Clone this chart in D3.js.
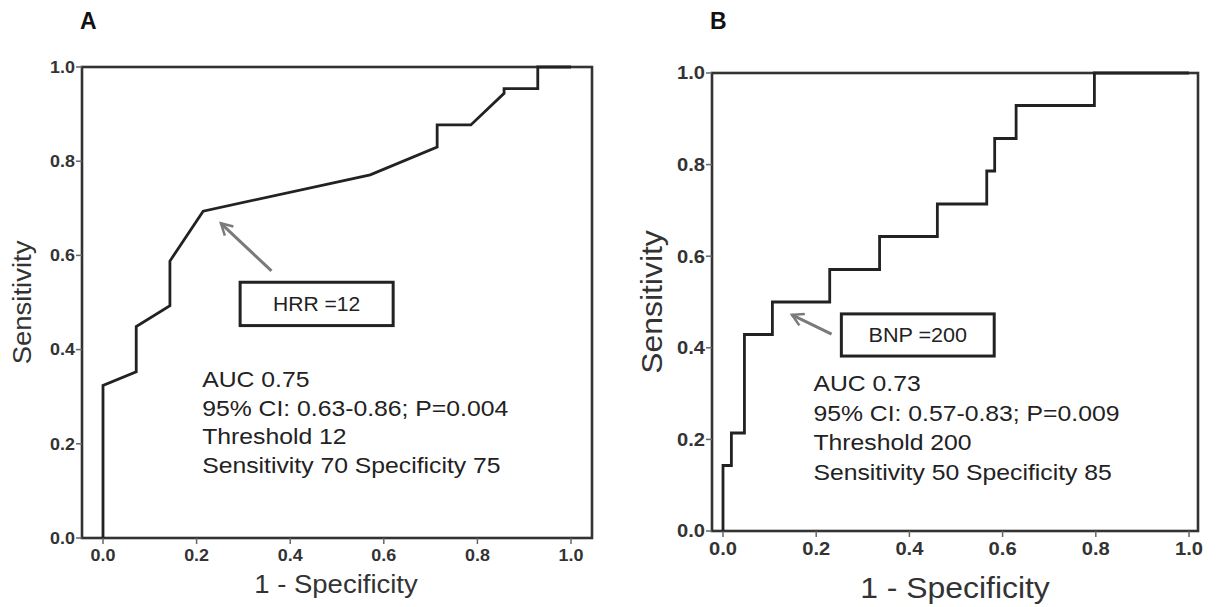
<!DOCTYPE html>
<html>
<head>
<meta charset="utf-8">
<script src="https://cdn.jsdelivr.net/npm/d3@7"></script>
<style>
  body { margin: 0; background: #fff; }
  svg { display: block; font-family: Arial, "Liberation Sans", sans-serif; }
</style>
</head>
<body>
<script>
// ROC curve A (HRR)
let fprA = [0, 0, 0.071, 0.071, 0.143, 0.143, 0.214, 0.571, 0.714, 0.714, 0.786, 0.857, 0.857, 0.929, 0.929, 1];
let tprA = [0, 0.324, 0.353, 0.449, 0.493, 0.588, 0.694, 0.771, 0.83, 0.877, 0.877, 0.944, 0.954, 0.954, 1, 1];

// ROC curve B (BNP) – step corners (x where sensitivity rises, level after rise)
let fprB = [0, 0, 0.018, 0.046, 0.106, 0.229, 0.336, 0.46, 0.566, 0.583, 0.629, 0.797, 1];
let tprB = [0, 0.143, 0.214, 0.429, 0.5, 0.571, 0.643, 0.714, 0.786, 0.857, 0.929, 1, 1];

let ticks = [0, 0.2, 0.4, 0.6, 0.8, 1.0];

let statsA = ["AUC 0.75", "95% CI: 0.63-0.86; P=0.004", "Threshold 12", "Sensitivity 70 Specificity 75"];
let statsB = ["AUC 0.73", "95% CI: 0.57-0.83; P=0.009", "Threshold 200", "Sensitivity 50 Specificity 85"];

let w = 1217, h = 607;
let sx = 1.1;   // picture is a bit stretched sideways

let svg = d3.select("body").append("svg")
    .attr("width", w)
    .attr("height", h);

let defs = svg.append("defs");
defs.append("marker")
    .attr("id", "head")
    .attr("viewBox", "0 0 12 12")
    .attr("refX", 10).attr("refY", 6)
    .attr("markerWidth", 5).attr("markerHeight", 5)
    .attr("markerUnits", "strokeWidth")
    .attr("orient", "auto")
    .append("path")
    .attr("d", "M1,1 L10,6 L1,11")
    .attr("fill", "none")
    .attr("stroke", "#7a7a7a")
    .attr("stroke-width", 2);

function txt(g, x, y, s, size, opt) {
    opt = opt || {};
    let t = g.append("text")
        .attr("transform", "translate(" + x + "," + y + ")" + (opt.rot ? " rotate(-90)" : "") + " scale(" + (opt.sx || sx) + ",1)")
        .attr("font-size", size + "px")
        .attr("fill", opt.fill || "#222")
        .attr("text-anchor", opt.anchor || "start")
        .attr("font-weight", opt.bold ? "bold" : "normal")
        .text(s);
    return t;
}

let panel = function(cfg) {
    let x = d3.scaleLinear().domain([0, 1]).range(cfg.xr);
    let y = d3.scaleLinear().domain([0, 1]).range(cfg.yr);
    let g = svg.append("g");

    // frame
    g.append("rect")
        .attr("x", cfg.fx[0]).attr("y", y(1))
        .attr("width", cfg.fx[1] - cfg.fx[0])
        .attr("height", y(0) - y(1))
        .attr("fill", "none")
        .attr("stroke", "#333")
        .attr("stroke-width", 2.6);

    // y ticks
    g.selectAll(".yt").data(ticks).enter().append("line")
        .attr("x1", cfg.fx[0] - 6).attr("x2", cfg.fx[0])
        .attr("y1", d => y(d)).attr("y2", d => y(d))
        .attr("stroke", "#666").attr("stroke-width", 1.5);
    ticks.forEach(d => txt(g, cfg.fx[0] - 7, y(d) + cfg.tick * 0.36, d3.format(".1f")(d), cfg.tick,
        { anchor: "end", bold: true, fill: "#333", sx: 1.12 }));

    // x ticks
    g.selectAll(".xt").data(ticks).enter().append("line")
        .attr("x1", d => x(d)).attr("x2", d => x(d))
        .attr("y1", y(0)).attr("y2", y(0) + 6)
        .attr("stroke", "#666").attr("stroke-width", 1.5);
    ticks.forEach(d => txt(g, x(d), cfg.xlabY, d3.format(".1f")(d), cfg.tick,
        { anchor: "middle", bold: true, fill: "#333", sx: 1.12 }));

    // axis titles
    txt(g, x(0.5) - 1, cfg.xtitleY, "1 - Specificity", cfg.title, { anchor: "middle", fill: "#333" });
    txt(g, cfg.ytitleX, (y(0) + y(1)) / 2, "Sensitivity", cfg.title, { anchor: "middle", fill: "#333", rot: true });

    // panel letter
    txt(g, cfg.fx[0] - 2, 29, cfg.letter, 23, { bold: true, fill: "#111", sx: 1 });

    // ROC curve
    let pts = cfg.fpr.map((d, i) => [d, cfg.tpr[i]]);
    let line = d3.line()
        .x(d => x(d[0]))
        .y(d => y(d[1]))
        .curve(cfg.step ? d3.curveStepAfter : d3.curveLinear);
    g.append("path")
        .attr("d", line(pts))
        .attr("fill", "none")
        .attr("stroke", "#222")
        .attr("stroke-width", 2.8)
        .attr("stroke-linejoin", "miter");

    // arrow
    g.append("line")
        .attr("x1", x(cfg.arrow[0])).attr("y1", y(cfg.arrow[1]))
        .attr("x2", x(cfg.arrow[2])).attr("y2", y(cfg.arrow[3]))
        .attr("stroke", "#7a7a7a")
        .attr("stroke-width", 3)
        .attr("marker-end", "url(#head)");

    // label box
    let b = cfg.box;
    g.append("rect")
        .attr("x", x(b[0])).attr("y", y(b[3]))
        .attr("width", x(b[1]) - x(b[0]))
        .attr("height", y(b[2]) - y(b[3]))
        .attr("fill", "#fff")
        .attr("stroke", "#222")
        .attr("stroke-width", 3);
    txt(g, (x(b[0]) + x(b[1])) / 2, (y(b[2]) + y(b[3])) / 2 + 7, cfg.boxText, cfg.boxFont, { anchor: "middle", sx: 1.08 });

    // stats
    cfg.stats.forEach((s, i) => txt(g, x(cfg.statX), cfg.statY + i * cfg.statDy, s, cfg.statFont));
};

panel({
    letter: "A",
    fpr: fprA, tpr: tprA, step: false,
    xr: [103, 571], yr: [538, 67], fx: [82, 592],
    tick: 16, xlabY: 561, title: 25, xtitleY: 593, ytitleX: 31,
    arrow: [0.36, 0.567, 0.252, 0.668],
    box: [0.293, 0.62, 0.451, 0.543], boxText: "HRR =12", boxFont: 19.5,
    stats: statsA, statX: 0.212, statY: 387, statDy: 28.5, statFont: 22.5
});

panel({
    letter: "B",
    fpr: fprB, tpr: tprB, step: true,
    xr: [723, 1189], yr: [531, 73], fx: [712, 1198],
    tick: 18, xlabY: 555, title: 29, xtitleY: 598, ytitleX: 662,
    arrow: [0.233, 0.43, 0.148, 0.472],
    box: [0.254, 0.582, 0.382, 0.474], boxText: "BNP =200", boxFont: 20,
    stats: statsB, statX: 0.194, statY: 391, statDy: 29.5, statFont: 22.5
});
</script>
</body>
</html>
